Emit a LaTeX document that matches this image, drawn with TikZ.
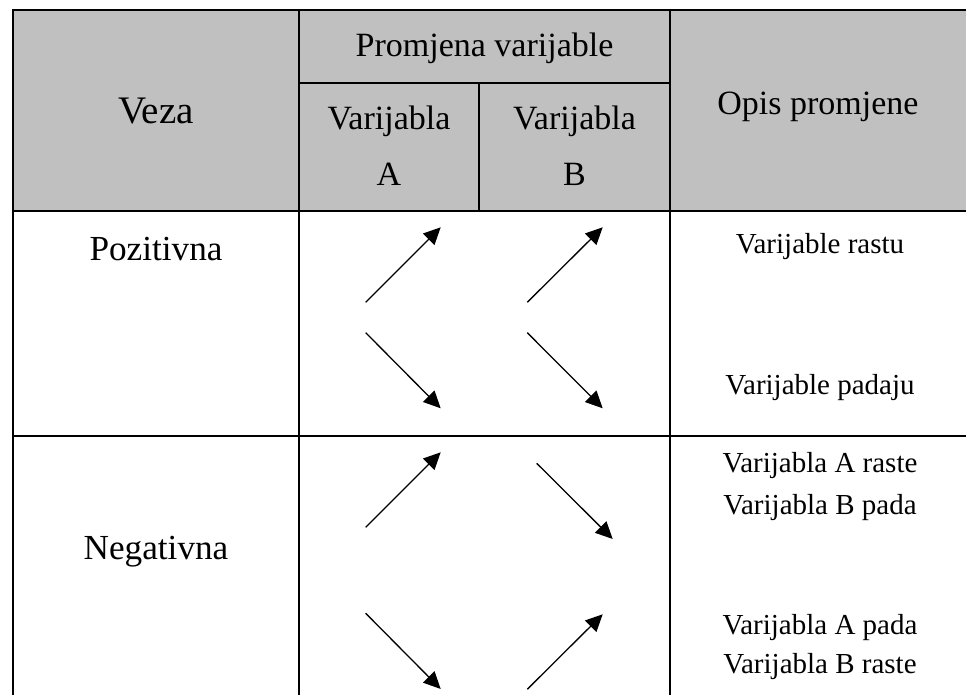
\documentclass[tikz,border=0pt]{standalone}
\usepackage{fontspec}
\setmainfont{Liberation Serif}
\usepackage{tikz}
\usetikzlibrary{arrows.meta}

\definecolor{headgray}{RGB}{192,192,192}

\begin{document}
\begin{tikzpicture}[x=0.5pt,y=-0.5pt,line width=1pt,
        >={Triangle[length=8.5pt,width=8pt]},
        head/.style={anchor=base,font=\fontsize{17}{20}\selectfont},
        veza/.style={anchor=base,font=\fontsize{17.6}{20}\selectfont},
        opis/.style={anchor=base,font=\fontsize{14.5}{17}\selectfont},
        arr/.style={->,line width=0.65pt}]

  \useasboundingbox (0,0) rectangle (966,695);

  % header
  \fill[headgray] (13,10) rectangle (966,211);
  \draw (966,10) -- (13,10) -- (13,695);
  \draw (299,10) -- (299,695);
  \draw (670,10) -- (670,695);
  \draw (299,83) -- (670,83);
  \draw (479,83) -- (479,211);
  \draw (13,211) -- (966,211);
  \draw (13,436) -- (966,436);

  \node[head,font=\fontsize{19.5}{22}\selectfont] (veza) at (156,124) {Veza};
  \node[head] (prom) at (484.5,57) {Promjena varijable};
  \node[head] (va1) at (389,130) {Varijabla};
  \node[head] (va2) at (389,186) {A};
  \node[head] (vb1) at (574.5,130) {Varijabla};
  \node[head] (vb2) at (574.5,186) {B};
  \node[head] (opis) at (818,115) {Opis promjene};

  % rows
  \node[veza] (poz) at (156,261) {Pozitivna};
  \node[veza] (neg) at (156,560) {Negativna};

  \node[opis] (o1) at (820,254) {Varijable rastu};
  \node[opis] (o2) at (820,395) {Varijable padaju};
  \node[opis] (o3) at (820,473) {Varijabla A raste};
  \node[opis] (o4) at (820,515) {Varijabla B pada};
  \node[opis] (o5) at (820,635) {Varijabla A pada};
  \node[opis] (o6) at (820,674) {Varijabla B raste};

  % arrow ends
  \coordinate (pa1) at (365.7,302.3);  \coordinate (pa2) at (440.7,227.3);
  \coordinate (pa3) at (365.7,332.7);  \coordinate (pa4) at (440.7,408.3);
  \coordinate (pb1) at (527.3,302.3);  \coordinate (pb2) at (602.7,227.3);
  \coordinate (pb3) at (527.3,332.7);  \coordinate (pb4) at (602.7,408.3);
  \coordinate (na1) at (365.7,527.3);  \coordinate (na2) at (440.7,452.3);
  \coordinate (na3) at (365.7,613.3);  \coordinate (na4) at (440.7,689);
  \coordinate (nb1) at (536.7,463.3);  \coordinate (nb2) at (612.7,539);
  \coordinate (nb3) at (527.3,689.3);  \coordinate (nb4) at (602.7,614.3);

  \draw[arr] (pa1) -- (pa2);
  \draw[arr] (pa3) -- (pa4);
  \draw[arr] (pb1) -- (pb2);
  \draw[arr] (pb3) -- (pb4);
  \draw[arr] (na1) -- (na2);
  \draw[arr] (na3) -- (na4);
  \draw[arr] (nb1) -- (nb2);
  \draw[arr] (nb3) -- (nb4);

\end{tikzpicture}
\end{document}
